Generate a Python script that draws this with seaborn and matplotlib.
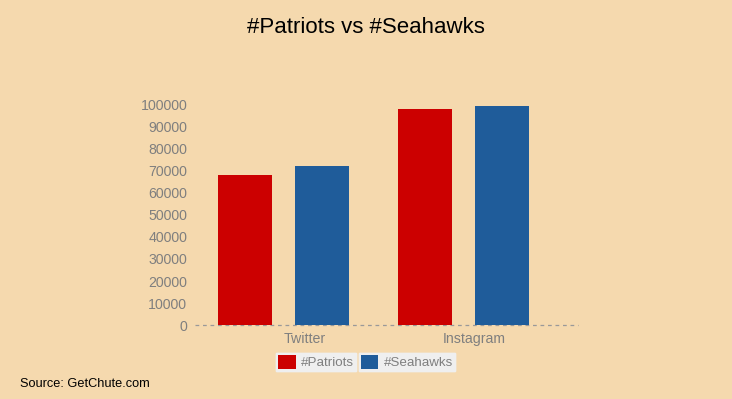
import matplotlib
matplotlib.use('Agg')

import matplotlib.pyplot as plt
import matplotlib.patches as mpatches
import seaborn as sb
import pandas as pd

# data
platforms = ["Twitter", "Instagram"]
teams = ["#Patriots", "#Seahawks"]
patriots = [67800, 97600]
seahawks = [71800, 99100]

team_colors = ["#cc0000", "#1f5c9a"]
bg = "#f5d9ae"
grey = "#7f7f7f"

df = pd.DataFrame({
    "Platform": platforms * 2,
    "Team": [teams[0]] * 2 + [teams[1]] * 2,
    "Mentions": patriots + seahawks,
})

sb.set_style("white")
plt.rcParams['font.family'] = ['Liberation Sans', 'DejaVu Sans']

fig = plt.figure(figsize=(7.32, 3.99), dpi=100, facecolor=bg)
ax = fig.add_axes([0.2664, 0.1847, 0.5232, 0.5546], facecolor=bg)

sb.barplot(data=df, x="Platform", y="Mentions", hue="Team", order=platforms,
           hue_order=teams, palette=team_colors, width=0.856, gap=0.3,
           saturation=1, legend=False, linewidth=0, edgecolor="none", ax=ax)

ax.set_xlim(-0.4917, 1.636)
ax.set_ylim(0, 100000)
ax.set_yticks(range(0, 100001, 10000))
ax.set_yticklabels([str(v) for v in range(0, 100001, 10000)], color=grey, fontsize=10.2)
# category labels sit a little right of the bar groups in the original
ax.set_xticks([0.12, 1.06])
ax.set_xticklabels(platforms, color=grey, fontsize=10.2)
ax.tick_params(axis='x', length=0, pad=5)
ax.tick_params(axis='y', length=0, pad=5.5)
ax.set_xlabel("")
ax.set_ylabel("")
for s in ax.spines.values():
    s.set_visible(False)
ax.axhline(0, color="#999999", lw=0.9, ls=(0, (3, 3)), zorder=0, clip_on=False)

# two separate legend boxes like the original
xs = [0.432, 0.556]
for i, (t, c) in enumerate(zip(teams, team_colors)):
    h = mpatches.Patch(facecolor=c, edgecolor="none", label=t)
    leg = fig.legend(handles=[h], loc="center", bbox_to_anchor=(xs[i], 0.093),
                     frameon=True, fancybox=False, framealpha=1, facecolor="#efefef",
                     edgecolor="#efefef", fontsize=9.6, handlelength=1.3,
                     handleheight=1.3, handletextpad=0.4, borderpad=0.15,
                     borderaxespad=0)
    for txt in leg.get_texts():
        txt.set_color(grey)
    fig.add_artist(leg)

fig.text(0.5, 0.93, "#Patriots vs #Seahawks", ha="center", va="center", fontsize=16, color="black")
fig.text(0.028, 0.038, "Source: GetChute.com", ha="left", va="center", fontsize=9.2, color="black")

fig.savefig("out.png", dpi=100, facecolor=bg)
